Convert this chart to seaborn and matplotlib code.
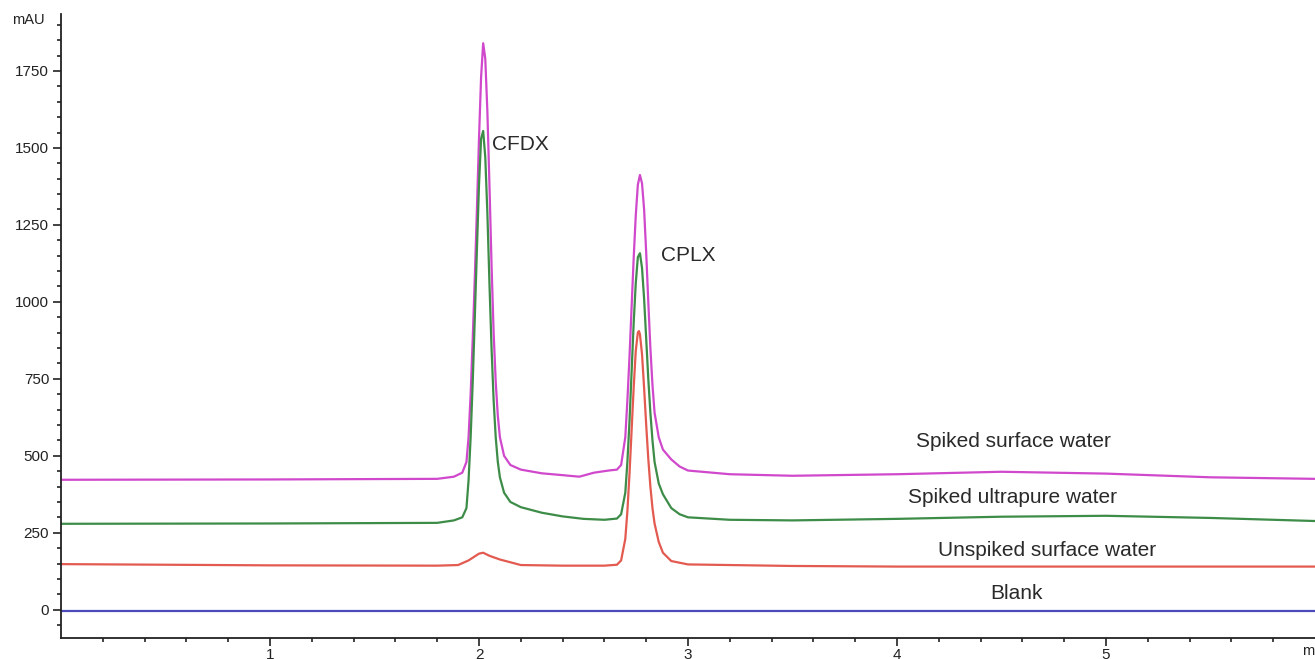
import pandas as pd
import numpy as np
import matplotlib.pyplot as plt
import seaborn as sns

# --- DATA ---
t_surface = [0, 1.0, 1.80, 1.88, 1.92, 1.94, 1.95, 1.96, 1.97, 1.98, 1.99, 2.00, 2.01, 2.02,
             2.03, 2.04, 2.05, 2.06, 2.07, 2.08, 2.09, 2.10, 2.12, 2.15, 2.20, 2.30, 2.40,
             2.48, 2.55, 2.62, 2.66, 2.68, 2.70, 2.71, 2.72, 2.73, 2.74, 2.75, 2.76, 2.77,
             2.78, 2.79, 2.80, 2.81, 2.82, 2.83, 2.84, 2.86, 2.88, 2.92, 2.96, 3.00, 3.2,
             3.5, 4.0, 4.5, 5.0, 5.5, 6.0]
y_surface = [422, 423, 425, 432, 445, 480, 560, 700, 880, 1080, 1300, 1530, 1730, 1840,
             1790, 1620, 1380, 1120, 900, 740, 630, 560, 500, 470, 455, 443, 437,
             432, 445, 452, 455, 470, 560, 680, 820, 980, 1140, 1280, 1380, 1412,
             1385, 1300, 1160, 1000, 850, 730, 640, 560, 520, 488, 465, 452, 440,
             435, 440, 448, 442, 430, 425]

t_ultra = [0, 1.0, 1.80, 1.88, 1.92, 1.94, 1.95, 1.96, 1.97, 1.98, 1.99, 2.00, 2.01, 2.02,
           2.03, 2.04, 2.05, 2.06, 2.07, 2.08, 2.09, 2.10, 2.12, 2.15, 2.20, 2.30, 2.40,
           2.50, 2.60, 2.66, 2.68, 2.70, 2.71, 2.72, 2.73, 2.74, 2.75, 2.76, 2.77, 2.78,
           2.79, 2.80, 2.81, 2.82, 2.83, 2.84, 2.86, 2.88, 2.92, 2.96, 3.00, 3.2, 3.5,
           4.0, 4.5, 5.0, 5.5, 6.0]
y_ultra = [279, 280, 282, 290, 300, 330, 420, 560, 740, 950, 1170, 1380, 1530, 1555,
           1470, 1290, 1060, 850, 680, 560, 480, 430, 380, 350, 333, 315, 303,
           295, 292, 296, 310, 380, 480, 610, 770, 930, 1060, 1145, 1158, 1110,
           1010, 880, 750, 640, 550, 480, 410, 375, 330, 310, 300, 292, 290,
           295, 302, 305, 298, 288]

t_unspiked = [0, 0.5, 1.0, 1.80, 1.90, 1.95, 2.00, 2.02, 2.05, 2.10, 2.20, 2.40, 2.60,
              2.66, 2.68, 2.70, 2.71, 2.72, 2.73, 2.74, 2.75, 2.76, 2.765, 2.77, 2.78,
              2.79, 2.80, 2.81, 2.82, 2.83, 2.84, 2.86, 2.88, 2.92, 3.00, 3.5, 4.0,
              5.0, 6.0]
y_unspiked = [148, 146, 144, 143, 145, 160, 182, 185, 175, 163, 145, 143, 143,
              146, 160, 230, 320, 440, 580, 720, 840, 900, 905, 895, 830,
              720, 600, 490, 400, 330, 280, 220, 185, 158, 147, 142, 140,
              140, 140]

t_blank = [0, 6.0]
y_blank = [-5, -5]

samples = ['Spiked surface water', 'Spiked ultrapure water', 'Unspiked surface water', 'Blank']
colors = ['#d048cc', '#3d8c48', '#e35a50', '#4a4ab8']

series = [(t_surface, y_surface), (t_ultra, y_ultra), (t_unspiked, y_unspiked), (t_blank, y_blank)]
df = pd.concat([pd.DataFrame({'time': t, 'mAU': y, 'sample': s})
                for (t, y), s in zip(series, samples)], ignore_index=True)

# --- PLOT ---
sns.set_style('ticks')
plt.rcParams['font.family'] = ['Liberation Sans', 'DejaVu Sans']

fig = plt.figure(figsize=(13.15, 6.59), dpi=100)
ax = fig.add_axes([61 / 1315, 1 - 638 / 659, 1 - 61 / 1315, (638 - 14) / 659])

sns.lineplot(data=df, x='time', y='mAU', hue='sample', palette=dict(zip(samples, colors)),
             estimator=None, sort=False, linewidth=1.6, legend=False, ax=ax)

ax.set_xlim(0, 6)
ax.set_ylim(-92, 1935)
ax.set_xticks([1, 2, 3, 4, 5])
ax.set_xticks(np.arange(0.2, 6.0, 0.2), minor=True)
ax.set_yticks([0, 250, 500, 750, 1000, 1250, 1500, 1750])
ax.set_yticks(np.arange(-50, 1901, 50), minor=True)
ax.set_xlabel('')
ax.set_ylabel('')
ax.tick_params(axis='both', which='major', direction='out', length=5.5, width=1.2,
               labelsize=11, colors='#222222', pad=3)
ax.tick_params(axis='x', which='major', pad=1.5)
ax.tick_params(axis='both', which='minor', direction='out', length=3, width=1.2, colors='#222222')
sns.despine(ax=ax)
for sp in ['left', 'bottom']:
    ax.spines[sp].set_linewidth(1.3)
    ax.spines[sp].set_color('#222222')

# peak and trace labels
lab = dict(fontsize=15, va='center', color='#2a2a2a')
ax.text(2.06, 1510, 'CFDX', **lab)
ax.text(2.87, 1150, 'CPLX', **lab)
ax.text(4.555, 545, 'Spiked surface water', ha='center', **lab)
ax.text(4.555, 363, 'Spiked ultrapure water', ha='center', **lab)
ax.text(4.72, 191, 'Unspiked surface water', ha='center', **lab)
ax.text(4.574, 51, 'Blank', ha='center', **lab)

fig.text(12 / 1315, 1 - 20 / 659, 'mAU', fontsize=10.5, va='center', color='#222222')
fig.text(1302 / 1315, 1 - 651 / 659, 'min', fontsize=10.5, va='center', color='#222222')

fig.savefig('out.png', dpi=100)
